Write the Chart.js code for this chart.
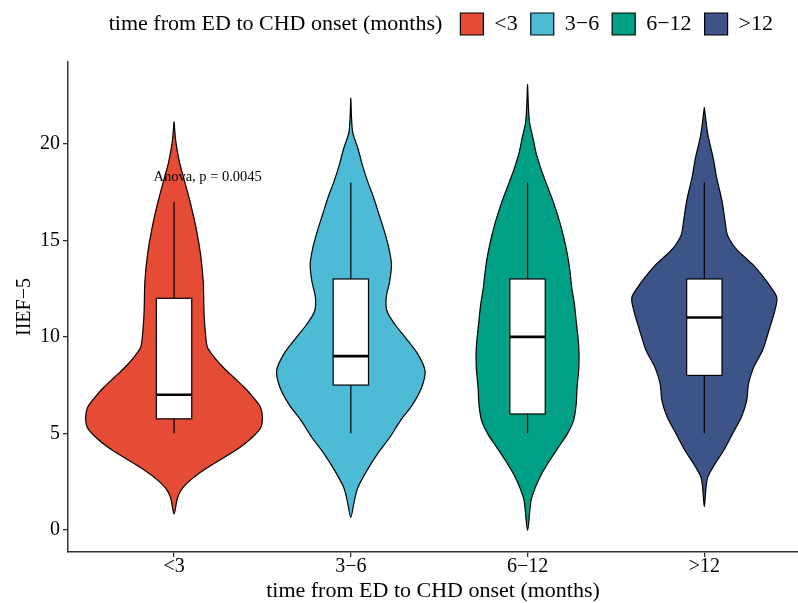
<!DOCTYPE html>
<html>
<head>
<meta charset="utf-8">
<script src="https://cdn.jsdelivr.net/npm/chart.js@4"></script>
<style>
  html, body { margin: 0; padding: 0; background: #fff; overflow: hidden; }
</style>
</head>
<body>
<canvas id="chart" width="798" height="603"></canvas>
<script>
const groups = ['<3', '3\u22126', '6\u221212', '>12'];
const colors = ['#E64B35', '#4DBBD5', '#00A087', '#3C5488'];
const yTicks = [0, 5, 10, 15, 20];

// violin outlines: IIEF-5 levels and half widths (category units)
const lt3Y = [21.16, 20.12, 19.09, 18.06, 17.03, 15.63, 14.28, 12.88, 11.16, 9.95, 9.43, 8.91, 8.4, 7.88, 7.36, 6.84, 6.33, 5.81, 5.29, 4.77, 4.25, 3.73, 3.22, 2.7, 2.18, 1.67, 0.81];
const lt3W = [0, 0.01, 0.03, 0.06, 0.09, 0.125, 0.15, 0.165, 0.17, 0.18, 0.19, 0.23, 0.28, 0.34, 0.40, 0.45, 0.49, 0.50, 0.49, 0.44, 0.37, 0.28, 0.19, 0.11, 0.05, 0.02, 0];
const m3to6Y = [22.4, 20.64, 19.78, 18.92, 18.06, 17.2, 16.33, 15.47, 14.61, 13.75, 12.88, 12.02, 11.33, 10.64, 9.95, 9.09, 8.23, 7.36, 6.5, 5.64, 4.78, 3.92, 3.05, 2.19, 1.5, 0.64];
const m3to6W = [0, 0.01, 0.04, 0.065, 0.095, 0.13, 0.16, 0.19, 0.215, 0.23, 0.22, 0.20, 0.205, 0.25, 0.31, 0.38, 0.42, 0.40, 0.35, 0.28, 0.22, 0.15, 0.09, 0.04, 0.02, 0];
const m6to12Y = [23.1, 21.2, 20.33, 19.47, 18.6, 17.74, 16.88, 16.01, 15.15, 14.29, 13.4, 12.56, 11.7, 10.83, 9.45, 8.4, 7.38, 6.5, 5.66, 4.97, 4.28, 3.59, 2.9, 2.21, 1.52, -0.03];
const m6to12W = [0, 0.01, 0.03, 0.05, 0.08, 0.115, 0.15, 0.18, 0.205, 0.225, 0.24, 0.25, 0.265, 0.275, 0.29, 0.29, 0.28, 0.275, 0.26, 0.225, 0.175, 0.125, 0.08, 0.045, 0.02, 0];
const gt12Y = [21.9, 20.49, 19.28, 18.24, 17.04, 15.83, 15.3, 14.8, 14.46, 14.12, 13.69, 13.26, 12.66, 12.05, 11.4, 10.16, 9.3, 8.43, 7.57, 6.71, 5.84, 4.98, 4.12, 3.26, 2.74, 2.22, 1.19];
const gt12W = [0, 0.02, 0.05, 0.07, 0.10, 0.12, 0.13, 0.16, 0.19, 0.23, 0.28, 0.32, 0.37, 0.41, 0.40, 0.36, 0.33, 0.28, 0.25, 0.24, 0.21, 0.16, 0.11, 0.05, 0.02, 0.01, 0];

// box plot stats
const whiskerLow = [5, 5, 5, 5];
const q1 = [5.75, 7.5, 6, 8];
const median = [7, 9, 10, 11];
const q3 = [12, 13, 13, 13];
const whiskerHigh = [17, 18, 18, 18];

const testLabel = 'Anova, p = 0.0045';
const testX = 1.19;
const testY = 18.3;

const SERIF = '"Liberation Serif", "Times New Roman", serif';
const violinYs = [lt3Y, m3to6Y, m6to12Y, gt12Y];
const violinWs = [lt3W, m3to6W, m6to12W, gt12W];

function outline(center, ys, ws) {
  const right = ys.map((v, i) => ({ x: center + ws[i], y: v }));
  const left = ys.map((v, i) => ({ x: center - ws[i], y: v })).reverse().slice(1);
  return right.concat(left);
}

const datasets = groups.map((g, i) => ({
  label: g,
  data: outline(i + 1, violinYs[i], violinWs[i]),
  showLine: true,
  fill: 'shape',
  backgroundColor: colors[i],
  borderColor: '#000',
  borderWidth: 1.2,
  tension: 0.3,
  pointRadius: 0,
  pointHoverRadius: 0
}));

const boxPlugin = {
  id: 'boxes',
  afterUpdate(chart) {
    // pull legend items in from the right edge
    const lg = chart.legend;
    lg.right = chart.width - 12;
    lg.fit();
    lg.adjustHitBoxes();
  },
  afterDatasetsDraw(chart) {
    const { ctx, scales: { x, y } } = chart;
    ctx.save();
    groups.forEach((g, i) => {
      const cx = x.getPixelForValue(i + 1);
      const half = x.getPixelForValue(i + 1.1) - cx;
      const yq1 = y.getPixelForValue(q1[i]);
      const yq3 = y.getPixelForValue(q3[i]);
      ctx.strokeStyle = '#000';
      ctx.lineWidth = 1.2;
      ctx.beginPath();
      ctx.moveTo(cx, y.getPixelForValue(whiskerHigh[i]));
      ctx.lineTo(cx, yq3);
      ctx.moveTo(cx, yq1);
      ctx.lineTo(cx, y.getPixelForValue(whiskerLow[i]));
      ctx.stroke();
      ctx.fillStyle = '#fff';
      ctx.fillRect(cx - half, yq3, half * 2, yq1 - yq3);
      ctx.strokeRect(cx - half, yq3, half * 2, yq1 - yq3);
      ctx.lineWidth = 2.6;
      ctx.beginPath();
      const ym = y.getPixelForValue(median[i]);
      ctx.moveTo(cx - half, ym);
      ctx.lineTo(cx + half, ym);
      ctx.stroke();
    });
    ctx.fillStyle = '#000';
    ctx.font = '14.5px ' + SERIF;
    ctx.textAlign = 'center';
    ctx.textBaseline = 'middle';
    ctx.fillText(testLabel, x.getPixelForValue(testX), y.getPixelForValue(testY));
    ctx.restore();
  },
  afterDraw(chart) {
    const lg = chart.legend;
    const hb = lg.legendHitBoxes[0];
    const ctx = chart.ctx;
    ctx.save();
    ctx.fillStyle = '#000';
    ctx.font = '22px ' + SERIF;
    ctx.textAlign = 'right';
    ctx.textBaseline = 'middle';
    ctx.fillText('time from ED to CHD onset (months)', hb.left - 18, hb.top + hb.height / 2);
    ctx.restore();
  }
};

new Chart(document.getElementById('chart'), {
  type: 'scatter',
  data: { datasets },
  options: {
    responsive: false,
    animation: false,
    devicePixelRatio: 1,
    layout: { padding: 0 },
    plugins: {
      tooltip: { enabled: false },
      title: {
        display: true,
        text: '',
        weight: 500,
        font: { size: 10, lineHeight: 1 },
        padding: { top: 7, bottom: 0 }
      },
      legend: {
        position: 'top',
        align: 'end',
        weight: 1000,
        labels: {
          boxWidth: 23,
          boxHeight: 22,
          padding: 13,
          color: '#000',
          font: { family: SERIF, size: 22, lineHeight: 1 }
        }
      }
    },
    scales: {
      x: {
        type: 'linear',
        min: 0.4,
        max: 4.53,
        afterBuildTicks: s => { s.ticks = groups.map((g, i) => ({ value: i + 1 })); },
        ticks: {
          callback: (v) => groups[v - 1],
          color: '#000',
          padding: 0,
          maxRotation: 0,
          font: { family: SERIF, size: 20, lineHeight: 1 }
        },
        grid: { drawOnChartArea: false, tickLength: 5, color: '#333', lineWidth: 1.3 },
        border: { color: '#333', width: 1.5 },
        title: {
          display: true,
          text: 'time from ED to CHD onset (months)',
          color: '#000',
          font: { family: SERIF, size: 22, lineHeight: 1 },
          padding: { top: 3, bottom: 1 }
        }
      },
      y: {
        type: 'linear',
        min: -1.155,
        max: 24.25,
        afterBuildTicks: s => { s.ticks = yTicks.map(v => ({ value: v })); },
        ticks: {
          color: '#000',
          padding: 3,
          font: { family: SERIF, size: 20, lineHeight: 1 }
        },
        grid: { drawOnChartArea: false, tickLength: 5, color: '#333', lineWidth: 1.3 },
        border: { color: '#333', width: 1.5 },
        title: {
          display: true,
          text: 'IIEF\u22125',
          color: '#000',
          font: { family: SERIF, size: 20, lineHeight: 1 },
          padding: { top: 15, bottom: 2 }
        }
      }
    }
  },
  plugins: [boxPlugin]
});
</script>
</body>
</html>
